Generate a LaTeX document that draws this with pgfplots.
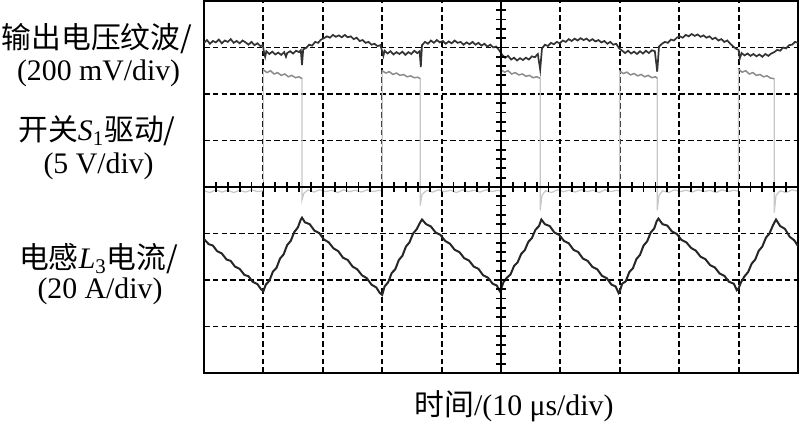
\documentclass[border=0pt]{standalone}
\usepackage{fontspec}
\setmainfont{Liberation Serif}
\newfontfamily\cjk{Noto Sans CJK SC}
\usepackage{pgfplots}
\pgfplotsset{compat=1.18}
\begin{document}
\begin{tikzpicture}
\begin{axis}[at={(102pt,26.5pt)}, anchor=south west, scale only axis,
  width=297pt, height=186pt, xmin=-5, xmax=5, ymin=-4, ymax=4,
  xtick={-4,-3,-2,-1,1,2,3,4}, ytick={-3,-2,-1,1,2,3},
  xticklabels={}, yticklabels={}, major tick length=0pt,
  grid=major, grid style={black, dash pattern=on 2.8pt off 1.6pt, line width=0.95pt},
  axis line style={line width=1.1pt}, clip=true]
% drive S1 (gray), whole trace incl. edges
\addplot[black!22, line width=0.6pt] coordinates {
(-5.00,-0.08) (-4.90,-0.12) (-4.80,-0.06) (-4.70,-0.11) (-4.60,-0.07) (-4.50,-0.12) (-4.40,-0.07) (-4.30,-0.11) (-4.20,-0.06) (-4.10,-0.10) (-4.00,-0.08)
(-4.00,2.52) (-3.94,2.46) (-3.88,2.50) (-3.82,2.43) (-3.76,2.46) (-3.70,2.40) (-3.64,2.43) (-3.58,2.37) (-3.52,2.40) (-3.46,2.35) (-3.40,2.37) (-3.35,2.33)
(-3.35,-0.28) (-3.32,-0.14) (-3.25,-0.06) (-3.15,-0.11) (-3.05,-0.06) (-2.95,-0.10) (-2.85,-0.07) (-2.75,-0.12) (-2.65,-0.06) (-2.55,-0.10) (-2.45,-0.07) (-2.35,-0.11) (-2.25,-0.06) (-2.15,-0.10) (-2.05,-0.07) (-2.00,-0.09)
(-2.00,2.50) (-1.94,2.45) (-1.88,2.48) (-1.82,2.42) (-1.76,2.45) (-1.70,2.40) (-1.64,2.42) (-1.58,2.37) (-1.52,2.39) (-1.46,2.35) (-1.40,2.36) (-1.36,2.33)
(-1.36,-0.40) (-1.33,-0.16) (-1.25,-0.07) (-1.15,-0.11) (-1.05,-0.06) (-0.95,-0.10) (-0.85,-0.07) (-0.75,-0.12) (-0.65,-0.06) (-0.55,-0.10) (-0.45,-0.07) (-0.35,-0.11) (-0.25,-0.06) (-0.15,-0.10) (-0.05,-0.07) (0.00,-0.09)
(0.00,2.52) (0.06,2.47) (0.12,2.50) (0.18,2.43) (0.24,2.46) (0.30,2.41) (0.36,2.43) (0.42,2.38) (0.48,2.40) (0.54,2.35) (0.60,2.37) (0.66,2.34)
(0.66,-0.50) (0.69,-0.18) (0.75,-0.08) (0.85,-0.12) (0.95,-0.06) (1.05,-0.10) (1.15,-0.07) (1.25,-0.11) (1.35,-0.06) (1.45,-0.10) (1.55,-0.07) (1.65,-0.12) (1.75,-0.06) (1.85,-0.10) (1.95,-0.07) (2.00,-0.09)
(2.00,2.49) (2.06,2.44) (2.12,2.47) (2.18,2.41) (2.24,2.44) (2.30,2.39) (2.36,2.42) (2.42,2.37) (2.48,2.40) (2.54,2.35) (2.60,2.37) (2.63,2.34)
(2.63,-0.50) (2.66,-0.18) (2.72,-0.08) (2.82,-0.12) (2.92,-0.06) (3.02,-0.10) (3.12,-0.07) (3.22,-0.11) (3.32,-0.06) (3.42,-0.10) (3.52,-0.07) (3.62,-0.12) (3.72,-0.06) (3.82,-0.10) (3.92,-0.07) (4.00,-0.09)
(4.00,2.53) (4.06,2.47) (4.12,2.50) (4.18,2.43) (4.24,2.46) (4.30,2.40) (4.36,2.42) (4.42,2.37) (4.48,2.39) (4.54,2.34) (4.60,2.33)
(4.60,-0.55) (4.63,-0.18) (4.70,-0.08) (4.80,-0.12) (4.90,-0.06) (5.00,-0.09)
};
% drive S1 high levels (darker gray)
\addplot[black!45, line width=0.7pt] coordinates {
(-4.00,2.52) (-3.94,2.46) (-3.88,2.50) (-3.82,2.43) (-3.76,2.46) (-3.70,2.40) (-3.64,2.43) (-3.58,2.37) (-3.52,2.40) (-3.46,2.35) (-3.40,2.37) (-3.35,2.33)
};
\addplot[black!45, line width=0.7pt] coordinates {
(-2.00,2.50) (-1.94,2.45) (-1.88,2.48) (-1.82,2.42) (-1.76,2.45) (-1.70,2.40) (-1.64,2.42) (-1.58,2.37) (-1.52,2.39) (-1.46,2.35) (-1.40,2.36) (-1.36,2.33)
};
\addplot[black!45, line width=0.7pt] coordinates {
(0.00,2.52) (0.06,2.47) (0.12,2.50) (0.18,2.43) (0.24,2.46) (0.30,2.41) (0.36,2.43) (0.42,2.38) (0.48,2.40) (0.54,2.35) (0.60,2.37) (0.66,2.34)
};
\addplot[black!45, line width=0.7pt] coordinates {
(2.00,2.49) (2.06,2.44) (2.12,2.47) (2.18,2.41) (2.24,2.44) (2.30,2.39) (2.36,2.42) (2.42,2.37) (2.48,2.40) (2.54,2.35) (2.60,2.37) (2.63,2.34)
};
\addplot[black!45, line width=0.7pt] coordinates {
(4.00,2.53) (4.06,2.47) (4.12,2.50) (4.18,2.43) (4.24,2.46) (4.30,2.40) (4.36,2.42) (4.42,2.37) (4.48,2.39) (4.54,2.34) (4.60,2.33)
};
% output voltage ripple
\addplot[black!80, line width=0.85pt] coordinates {
(-5.00,3.10) (-4.95,3.16) (-4.90,3.08) (-4.85,3.14) (-4.80,3.11) (-4.75,3.17) (-4.70,3.09) (-4.65,3.15) (-4.60,3.12) (-4.55,3.18) (-4.50,3.10) (-4.45,3.14) (-4.40,3.09) (-4.35,3.15) (-4.30,3.11) (-4.25,3.06) (-4.20,3.12) (-4.15,3.05) (-4.10,3.09) (-4.05,3.03) (-4.01,3.05)
(-3.99,2.90) (-3.97,2.80) (-3.95,2.92) (-3.90,2.86) (-3.85,2.91) (-3.80,2.85) (-3.75,2.89) (-3.70,2.84) (-3.65,2.90) (-3.62,2.80) (-3.60,2.88) (-3.55,2.92) (-3.50,2.87) (-3.45,2.93) (-3.40,2.90) (-3.37,2.94)
(-3.35,2.62) (-3.33,2.96) (-3.28,2.99) (-3.23,3.06) (-3.18,3.04) (-3.13,3.12) (-3.08,3.10) (-3.03,3.17) (-2.98,3.20) (-2.93,3.24) (-2.88,3.21) (-2.83,3.27) (-2.78,3.23) (-2.73,3.26) (-2.68,3.22) (-2.63,3.27) (-2.58,3.22) (-2.53,3.24) (-2.48,3.18) (-2.43,3.21) (-2.38,3.14) (-2.33,3.16) (-2.28,3.10) (-2.23,3.12) (-2.18,3.06) (-2.13,3.08) (-2.08,3.03) (-2.03,3.05)
(-2.00,2.92) (-1.98,2.82) (-1.96,2.93) (-1.91,2.87) (-1.86,2.92) (-1.81,2.85) (-1.76,2.90) (-1.71,2.86) (-1.66,2.91) (-1.61,2.84) (-1.56,2.90) (-1.51,2.86) (-1.46,2.93) (-1.41,2.88) (-1.37,2.92)
(-1.35,2.58) (-1.33,3.05) (-1.28,3.12) (-1.23,3.08) (-1.18,3.15) (-1.13,3.10) (-1.08,3.16) (-1.03,3.11) (-0.98,3.14) (-0.93,3.08) (-0.88,3.13) (-0.83,3.09) (-0.78,3.15) (-0.73,3.10) (-0.68,3.12) (-0.63,3.06) (-0.58,3.11) (-0.53,3.07) (-0.48,3.12) (-0.43,3.06) (-0.38,3.10) (-0.33,3.04) (-0.28,3.08) (-0.23,3.02) (-0.18,3.06) (-0.13,3.00) (-0.08,3.02) (-0.03,2.94)
(0.02,2.84) (0.07,2.78) (0.12,2.82) (0.17,2.74) (0.22,2.78) (0.27,2.72) (0.32,2.77) (0.37,2.73) (0.42,2.78) (0.47,2.74) (0.52,2.81) (0.57,2.79) (0.62,2.86)
(0.66,2.52) (0.69,2.98) (0.74,3.06) (0.79,3.03) (0.84,3.10) (0.89,3.07) (0.94,3.12) (0.99,3.09) (1.04,3.15) (1.09,3.12) (1.14,3.18) (1.19,3.14) (1.24,3.19) (1.29,3.15) (1.34,3.20) (1.39,3.16) (1.44,3.19) (1.49,3.14) (1.54,3.18) (1.59,3.13) (1.64,3.16) (1.69,3.11) (1.74,3.14) (1.79,3.08) (1.84,3.12) (1.89,3.06) (1.94,3.08) (1.99,2.98)
(2.04,2.93) (2.09,2.88) (2.14,2.93) (2.19,2.87) (2.24,2.91) (2.29,2.86) (2.34,2.92) (2.39,2.87) (2.44,2.93) (2.49,2.88) (2.54,2.94) (2.59,2.92)
(2.63,2.48) (2.66,3.02) (2.71,3.08) (2.76,3.12) (2.81,3.10) (2.86,3.17) (2.91,3.15) (2.96,3.21) (3.01,3.24) (3.06,3.21) (3.11,3.27) (3.16,3.24) (3.21,3.29) (3.26,3.25) (3.31,3.28) (3.36,3.23) (3.41,3.26) (3.46,3.21) (3.51,3.24) (3.56,3.18) (3.61,3.21) (3.66,3.15) (3.71,3.18) (3.76,3.12) (3.81,3.15) (3.86,3.08) (3.91,3.02) (3.96,2.97) (4.00,2.95)
(4.02,2.76) (4.05,2.88) (4.10,2.83) (4.15,2.87) (4.20,2.82) (4.25,2.86) (4.30,2.81) (4.35,2.85) (4.40,2.80) (4.45,2.86) (4.50,2.82) (4.55,2.87) (4.60,2.90) (4.65,2.95) (4.70,2.93) (4.75,3.00) (4.80,2.98) (4.85,3.05) (4.90,3.06) (4.95,3.12) (5.00,3.10)
};
% inductor current L3
\addplot[black!85, line width=1pt] coordinates {
(-5.00,-1.12) (-4.92,-1.23) (-4.85,-1.26) (-4.78,-1.38) (-4.70,-1.43) (-4.62,-1.56) (-4.55,-1.59) (-4.48,-1.71) (-4.40,-1.76) (-4.32,-1.89) (-4.25,-1.92) (-4.18,-2.04) (-4.10,-2.09) (-4.04,-2.20) (-4.00,-2.24)
(-3.96,-2.10) (-3.90,-2.02) (-3.84,-1.82) (-3.78,-1.74) (-3.72,-1.54) (-3.66,-1.45) (-3.60,-1.25) (-3.54,-1.16) (-3.48,-0.97) (-3.42,-0.87) (-3.37,-0.70) (-3.35,-0.66)
(-3.30,-0.76) (-3.22,-0.80) (-3.14,-0.94) (-3.06,-0.99) (-2.98,-1.13) (-2.90,-1.19) (-2.82,-1.32) (-2.74,-1.38) (-2.66,-1.52) (-2.58,-1.57) (-2.50,-1.71) (-2.42,-1.77) (-2.34,-1.90) (-2.26,-1.96) (-2.18,-2.10) (-2.10,-2.16) (-2.04,-2.28) (-2.00,-2.32)
(-1.96,-2.14) (-1.90,-2.05) (-1.84,-1.85) (-1.78,-1.77) (-1.72,-1.57) (-1.66,-1.48) (-1.60,-1.28) (-1.54,-1.19) (-1.48,-1.00) (-1.42,-0.91) (-1.36,-0.76) (-1.33,-0.70)
(-1.26,-0.80) (-1.18,-0.85) (-1.10,-0.98) (-1.02,-1.03) (-0.94,-1.16) (-0.86,-1.22) (-0.78,-1.35) (-0.70,-1.40) (-0.62,-1.53) (-0.54,-1.58) (-0.46,-1.71) (-0.38,-1.76) (-0.30,-1.90) (-0.22,-1.95) (-0.14,-2.08) (-0.07,-2.12) (-0.02,-2.24) (0.00,-2.20)
(0.04,-2.05) (0.10,-1.95) (0.16,-1.88) (0.22,-1.70) (0.28,-1.62) (0.34,-1.44) (0.40,-1.36) (0.46,-1.18) (0.52,-1.10) (0.58,-0.92) (0.64,-0.84) (0.68,-0.70)
(0.74,-0.80) (0.82,-0.84) (0.90,-0.98) (0.98,-1.03) (1.06,-1.16) (1.14,-1.21) (1.22,-1.35) (1.30,-1.40) (1.38,-1.54) (1.46,-1.59) (1.54,-1.72) (1.62,-1.77) (1.70,-1.91) (1.78,-1.96) (1.86,-2.10) (1.93,-2.14) (1.98,-2.28) (2.00,-2.24)
(2.04,-2.08) (2.10,-2.03) (2.16,-1.83) (2.22,-1.75) (2.28,-1.55) (2.34,-1.46) (2.40,-1.26) (2.46,-1.17) (2.52,-0.98) (2.58,-0.89) (2.62,-0.74) (2.65,-0.68)
(2.72,-0.80) (2.80,-0.83) (2.88,-0.96) (2.96,-1.01) (3.04,-1.14) (3.12,-1.19) (3.20,-1.31) (3.28,-1.37) (3.36,-1.50) (3.44,-1.55) (3.52,-1.68) (3.60,-1.73) (3.68,-1.86) (3.76,-1.91) (3.84,-2.04) (3.92,-2.08) (3.97,-2.22) (4.00,-2.18)
(4.04,-2.05) (4.10,-1.92) (4.16,-1.83) (4.22,-1.65) (4.28,-1.56) (4.34,-1.37) (4.40,-1.28) (4.46,-1.09) (4.52,-1.00) (4.58,-0.82) (4.63,-0.70)
(4.70,-0.84) (4.78,-0.90) (4.86,-1.07) (4.94,-1.15) (5.00,-1.27)
};
\end{axis}
\begin{axis}[at={(102pt,26.5pt)}, anchor=south west, scale only axis,
  width=297pt, height=186pt, xmin=-5, xmax=5, ymin=-4, ymax=4,
  axis lines=middle, axis line style={-, line width=0.9pt, black},
  xtick={-5,-4.8,...,5.01}, ytick={-4,-3.8,...,4.01},
  xticklabels={}, yticklabels={}, tick align=center, major tick length=5pt,
  tick style={line width=0.9pt, black}]
\end{axis}
\begin{scope}[every node/.style={font=\fontsize{14.9}{17}\selectfont, inner sep=0pt}]
\node at (48.5pt,193.5pt) {\cjk 输出电压纹波/};
\node at (49.3pt,176.5pt) {(200 mV/div)};
\node at (48.5pt,147.5pt) {\cjk 开关\rmfamily\textit{S}\textsubscript{1}\cjk 驱动/};
\node at (49.3pt,130pt) {(5 V/div)};
\node at (49.3pt,83.5pt) {\cjk 电感\rmfamily\textit{L}\textsubscript{3}\cjk 电流/};
\node at (50pt,67.5pt) {(20 A/div)};
\node at (257pt,10pt) {\cjk 时间\rmfamily/(10 μs/div)};
\end{scope}
\pgfresetboundingbox
\path (0,0) rectangle (400pt,213pt);
\end{tikzpicture}
\end{document}
